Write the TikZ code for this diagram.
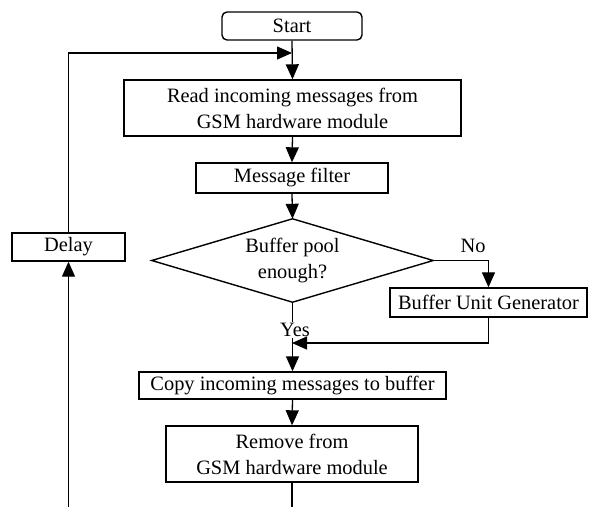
\documentclass[tikz,border=0pt]{standalone}
\usepackage{fontspec}
\setmainfont{Liberation Serif}
\usetikzlibrary{arrows.meta}
\begin{document}
\begin{tikzpicture}[x=1pt,y=-1pt,
  font=\fontsize{20.4}{26}\selectfont,
  box/.style={draw, line width=1.4pt, inner sep=0pt, align=center},
  flow/.style={line width=1.3pt, -{Triangle[length=15pt,width=13pt]}},
  plain/.style={line width=1.3pt}]
\useasboundingbox (0,0) rectangle (590,507);

% process steps
\node[box, rounded corners=5pt, minimum width=140pt, minimum height=28pt] (start) at (292,26) {Start};
\node[box, minimum width=337pt, minimum height=56pt] (read) at (292.5,108) {Read incoming messages from\\GSM hardware module};
\node[box, minimum width=192pt, minimum height=30pt] (filter) at (292,178) {Message filter};
\node[align=center, inner sep=0pt, minimum width=281pt, minimum height=83pt] (dec) at (292.5,260.5) {Buffer pool\\enough?};
\draw[line width=1.4pt] (dec.north) -- (dec.east) -- (dec.south) -- (dec.west) -- cycle;
\node[box, minimum width=197pt, minimum height=29pt] (bug) at (488.5,302.5) {Buffer Unit Generator};
\node[box, minimum width=307pt, minimum height=27pt] (copy) at (292.5,385.5) {Copy incoming messages to buffer};
\node[box, minimum width=252pt, minimum height=56pt] (remove) at (292,454) {Remove from\\GSM hardware module};
\node[box, minimum width=113pt, minimum height=28pt] (delay) at (68.5,247) {Delay};

% junction points
\coordinate (join) at (292,53);
\coordinate (nocorner) at (488.5,260.5);
\coordinate (merge) at (292,343);
\coordinate (endmain) at (292,507);
\coordinate (endloop) at (68.5,507);

% main flow
\draw[flow] (start.south) -- (read.north);
\draw[flow] (read.south) -- (filter.north);
\draw[flow] (filter.south) -- (dec.north);
\draw[flow] (dec.south) -- (copy.north);
\node[fill=white, inner sep=1pt] (yes) at (295,330) {Yes};
\draw[plain] (dec.east) -- (nocorner);
\draw[flow] (nocorner) -- (bug.north);
\node (no) at (473,246) {No};
\draw[flow] (bug.south) |- (merge);
\draw[flow] (copy.south) -- (remove.north);
\draw[plain] (remove.south) -- (endmain);

% return loop through the delay
\draw[flow] (endloop) -- (delay.south);
\draw[flow] (delay.north) |- (join);
\end{tikzpicture}
\end{document}
